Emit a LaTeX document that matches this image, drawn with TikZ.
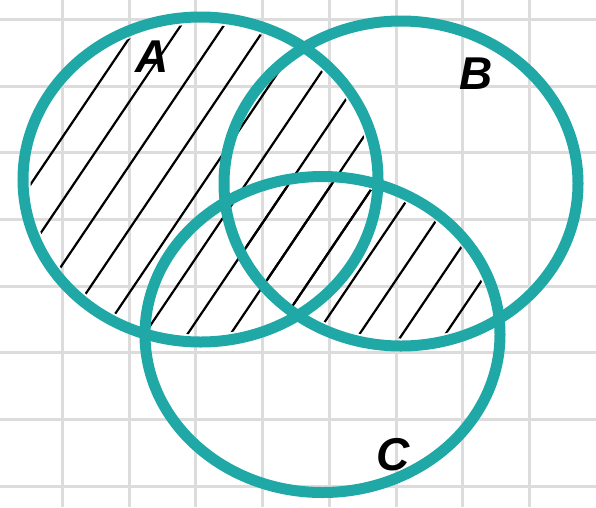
\documentclass[tikz,border=0pt]{standalone}
\usepackage{fontspec}
\setmainfont{Liberation Sans}
\definecolor{teal}{RGB}{32,168,166}
\definecolor{gridgray}{RGB}{220,220,220}
\begin{document}
\begin{tikzpicture}[x=1pt,y=-1pt,
  gridline/.style={gridgray,line width=3pt},
  setring/.style={teal,line width=11pt},
  hatchline/.style={black,line width=2.2pt,line cap=round},
  setlabel/.style={font=\fontsize{46}{46}\selectfont\bfseries\itshape,inner sep=0pt}]
\useasboundingbox (0,0) rectangle (596,507);
\fill[white] (0,0) rectangle (596,507);
% grid
\foreach \gx in {62.5,129.2,195.9,262.6,329.3,396,462.7,529.4}
  \draw[gridline] (\gx,0) -- (\gx,507);
\foreach \gy in {19.3,86,152.7,219.4,286.1,352.8,419.5,486.2}
  \draw[gridline] (0,\gy) -- (596,\gy);
% hatching in A
\begin{scope}
  \clip (200.5,179.5) ellipse [x radius=170, y radius=155];
  \foreach \n in {-6,...,18}
    \draw[hatchline] ({155+43*\n+6.75},-10) -- ({155+43*\n-351},520);
\end{scope}
% hatching in B and C
\begin{scope}
  \clip (401,183.5) ellipse [x radius=170, y radius=155];
  \clip (322.5,334.5) ellipse [x radius=170, y radius=151];
  \foreach \n in {-6,...,18}
    \draw[hatchline] ({155+43*\n+6.75},-10) -- ({155+43*\n-351},520);
\end{scope}
% circles
\draw[setring] (200.5,179.5) ellipse [x radius=177.5, y radius=162.5];
\draw[setring] (401,183.5) ellipse [x radius=177, y radius=162.5];
\draw[setring] (322.5,334.5) ellipse [x radius=177.5, y radius=158];
% labels
\node[setlabel] (la) at (152,57) {A};
\node[setlabel] (lb) at (476,74) {B};
\node[setlabel] (lc) at (393,455) {C};
\end{tikzpicture}
\end{document}
